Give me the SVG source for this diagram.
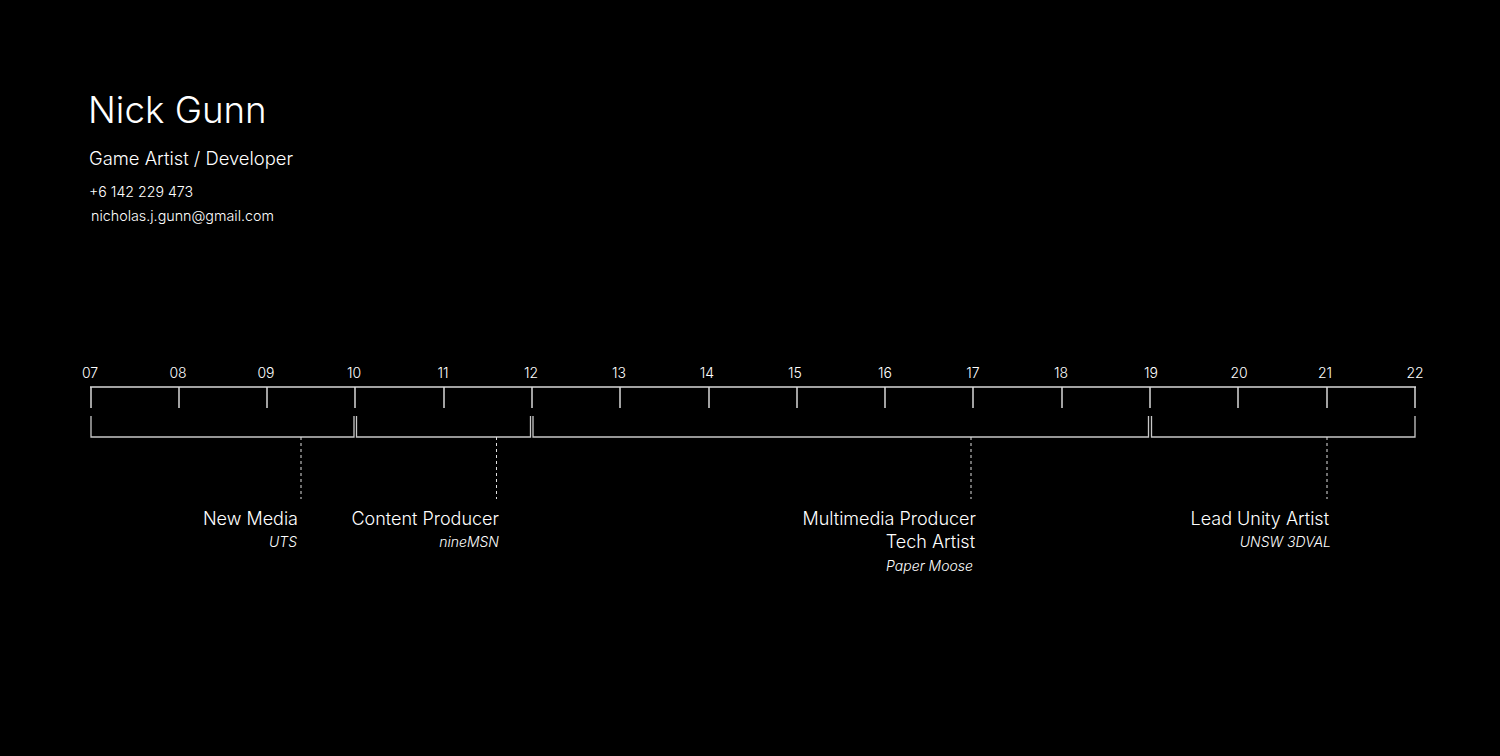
<svg xmlns="http://www.w3.org/2000/svg" width="1500" height="756" viewBox="0 0 1500 756">
<style>
text{font-family:Inter,"Liberation Sans",sans-serif;fill:#fff;font-weight:300}
.yr{font-size:14px;text-anchor:middle}
.role{font-size:18px;text-anchor:end}
.org{font-size:14px;text-anchor:end;font-style:italic}
.ax{stroke:#d8d8d8;stroke-width:1.5;fill:none}
.br{stroke:#c8c8c8;stroke-width:1.3;fill:none}
.dash{stroke:#e0e0e0;stroke-width:1;stroke-dasharray:3 3;fill:none}
</style>
<rect width="1500" height="756" fill="#000"/>
<g id="header">
<text x="88" y="123" font-size="36.7">Nick Gunn</text>
<text x="89" y="165" font-size="18.4">Game Artist / Developer</text>
<text x="89" y="197" font-size="14.2">+6 142 229 473</text>
<text x="91" y="221" font-size="14.3">nicholas.j.gunn@gmail.com</text>
</g>
<g id="axis">
<path class="ax" d="M90 387H1416M91 387V408M179 387V408M267 387V408M355 387V408M444 387V408M532 387V408M620 387V408M709 387V408M797 387V408M885 387V408M973 387V408M1062 387V408M1150 387V408M1238 387V408M1327 387V408M1415 387V408"/>
<text class="yr" x="90" y="378">07</text>
<text class="yr" x="178" y="378">08</text>
<text class="yr" x="266" y="378">09</text>
<text class="yr" x="354" y="378">10</text>
<text class="yr" x="443" y="378">11</text>
<text class="yr" x="531" y="378">12</text>
<text class="yr" x="619" y="378">13</text>
<text class="yr" x="707" y="378">14</text>
<text class="yr" x="795" y="378">15</text>
<text class="yr" x="885" y="378">16</text>
<text class="yr" x="973" y="378">17</text>
<text class="yr" x="1061" y="378">18</text>
<text class="yr" x="1151" y="378">19</text>
<text class="yr" x="1239" y="378">20</text>
<text class="yr" x="1325" y="378">21</text>
<text class="yr" x="1415" y="378">22</text>
</g>
<g id="connectors">
<path class="br" d="M91 416V437H354V416"/>
<path class="br" d="M356.5 416V437H530.5V416"/>
<path class="br" d="M533 416V437H1148.5V416"/>
<path class="br" d="M1151.5 416V437H1415V416"/>
<path class="dash" d="M301 437V499M496.5 437V499M971 437V499M1327 437V499"/>
</g>
<g id="new-media">
<text class="role" x="298" y="525">New Media</text>
<text class="org" x="297" y="547">UTS</text>
</g>
<g id="content-producer">
<text class="role" x="499" y="525">Content Producer</text>
<text class="org" x="499" y="547">nineMSN</text>
</g>
<g id="multimedia-producer">
<text class="role" x="976" y="525">Multimedia Producer</text>
<text class="role" x="975" y="548">Tech Artist</text>
<text class="org" x="973" y="571">Paper Moose</text>
</g>
<g id="lead-unity-artist">
<text class="role" x="1329" y="525">Lead Unity Artist</text>
<text class="org" x="1331" y="547">UNSW 3DVAL</text>
</g>
</svg>
